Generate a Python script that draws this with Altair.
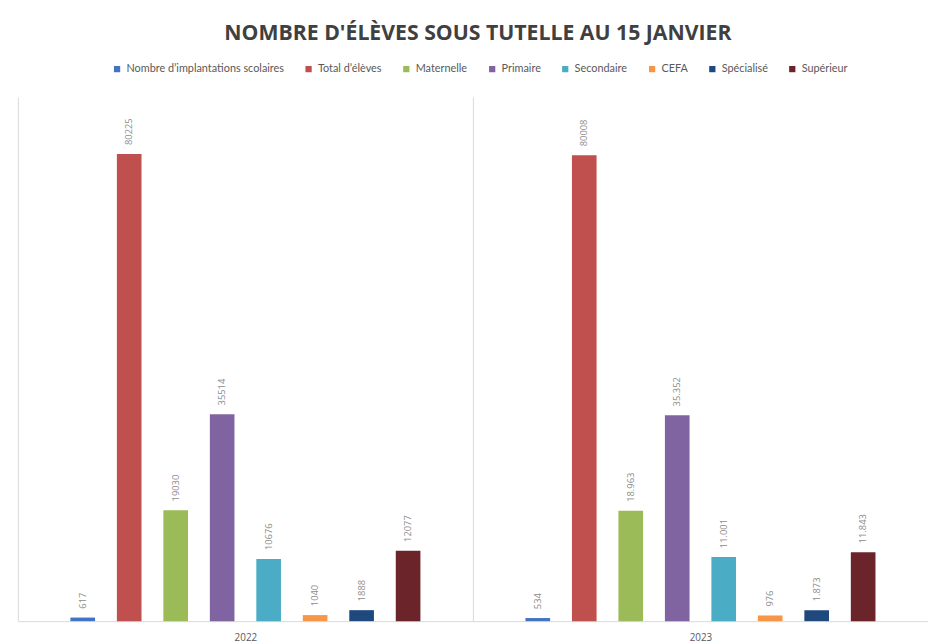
import altair as alt
import pandas as pd

years = ["2022", "2023"]
categories = [
    "Nombre d’implantations scolaires",
    "Total d’élèves",
    "Maternelle",
    "Primaire",
    "Secondaire",
    "CEFA",
    "Spécialisé",
    "Supérieur",
]
values_2022 = [617, 80225, 19030, 35514, 10676, 1040, 1888, 12077]
values_2023 = [534, 80008, 18963, 35352, 11001, 976, 1873, 11843]
labels_2022 = ["617", "80225", "19030", "35514", "10676", "1040", "1888", "12077"]
labels_2023 = ["534", "80008", "18.963", "35.352", "11.001", "976", "1.873", "11.843"]
colors = ["#4472C4", "#C0504D", "#9BBB59", "#8064A2", "#4BACC6", "#F79646", "#1F497D", "#6B2429"]

rows = []
for year, vals, labs in [("2022", values_2022, labels_2022), ("2023", values_2023, labels_2023)]:
    for c, v, l in zip(categories, vals, labs):
        rows.append({"year": year, "cat": c, "value": v, "label": l})
df = pd.DataFrame(rows)

# empty slots at both ends of each group give the wide outer gaps
offset_domain = ["_start"] + categories + ["_end"]

base = alt.Chart(df).encode(
    x=alt.X(
        "year:N",
        sort=years,
        title=None,
        scale=alt.Scale(paddingInner=0, paddingOuter=0),
        axis=alt.Axis(
            labelAngle=0,
            labelFontSize=10,
            labelColor="#595959",
            labelFont="Open Sans",
            labelPadding=12,
            ticks=False,
            domainColor="#d9d9d9",
            grid=True,
            gridColor="#d9d9d9",
            tickBand="extent",
        ),
    ),
    xOffset=alt.XOffset(
        "cat:N",
        scale=alt.Scale(domain=offset_domain, paddingInner=0.47, paddingOuter=0.13),
    ),
    y=alt.Y("value:Q", scale=alt.Scale(domain=[0, 90000]), axis=None),
)

bars = base.mark_bar().encode(
    color=alt.Color(
        "cat:N",
        sort=categories,
        scale=alt.Scale(domain=categories, range=colors),
        legend=alt.Legend(
            title=None,
            orient="none",
            legendX=95,
            legendY=-34,
            direction="horizontal",
            symbolType="square",
            symbolSize=40,
            symbolStrokeWidth=0,
            labelFontSize=11,
            labelColor="#595959",
            labelFont="Lato",
            labelLimit=0,
            columnPadding=19,
        ),
    )
)

text = base.mark_text(
    angle=270,
    align="left",
    baseline="middle",
    dx=9,
    fontSize=9.5,
    font="Open Sans",
    color="#8c8c8c",
).encode(text="label:N")

chart = (
    alt.layer(bars, text)
    .properties(
        width=922,
        height=531,
        title=alt.TitleParams(
            text="NOMBRE D'ÉLÈVES SOUS TUTELLE AU 15 JANVIER",
            font="Open Sans",
            fontSize=21.5,
            fontWeight="bold",
            color="#404040",
            anchor="middle",
            dx=5,
            offset=19,
        ),
        autosize=alt.AutoSizeParams(type="none"),
        padding={"left": 10, "top": 86, "right": 0, "bottom": 20},
    )
    .configure_view(stroke=None)
)

chart.save("out.html", embed_options={"renderer": "svg", "actions": False})
